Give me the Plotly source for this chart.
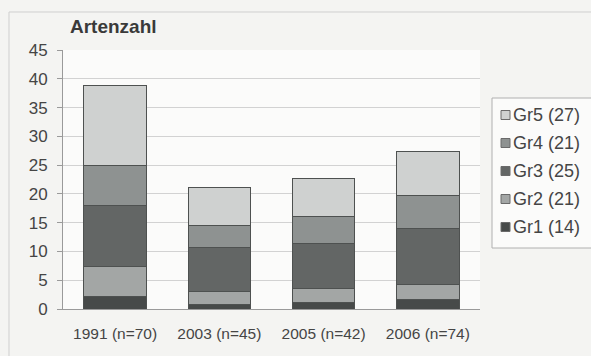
import plotly.graph_objects as go

categories = ["1991 (n=70)", "2003 (n=45)", "2005 (n=42)", "2006 (n=74)"]
series_names = ["Gr1 (14)", "Gr2 (21)", "Gr3 (25)", "Gr4 (21)", "Gr5 (27)"]
gr1 = [2.2, 0.75, 1.15, 1.6]
gr2 = [5.2, 2.35, 2.35, 2.6]
gr3 = [10.5, 7.6, 7.9, 9.8]
gr4 = [7.0, 3.8, 4.7, 5.7]
gr5 = [14.0, 6.6, 6.5, 7.7]
y_ticks = [0, 5, 10, 15, 20, 25, 30, 35, 40, 45]

values = [gr1, gr2, gr3, gr4, gr5]
colors = ["#474a49", "#a3a6a5", "#636665", "#8e9291", "#cfd1d0"]

W, H = 591, 356
ML, MR, MT, MB = 63, 111, 50, 47
PW, PH = W - ML - MR, H - MT - MB


def px_x(px):
    return (px - ML) / PW


def px_y(py):
    return (H - MB - py) / PH


fig = go.Figure()
for name, vals, col in zip(series_names, values, colors):
    fig.add_trace(go.Bar(
        x=categories, y=vals, name=name, showlegend=False,
        marker=dict(color=col, line=dict(color="#4e5150", width=1)),
    ))

shapes = [
    # outer chart frame (only top/left edges visible)
    dict(type="rect", xref="paper", yref="paper",
         x0=px_x(9), x1=px_x(640), y0=px_y(400), y1=px_y(12),
         line=dict(color="#cfcfcf", width=1), fillcolor="rgba(0,0,0,0)", layer="below"),
    # legend box
    dict(type="rect", xref="paper", yref="paper",
         x0=px_x(492), x1=px_x(620), y0=px_y(248), y1=px_y(98),
         line=dict(color="#b0b0b0", width=1), fillcolor="#fbfbfa"),
]
annotations = [dict(
    text="<b>Artenzahl</b>", xref="paper", yref="paper",
    x=px_x(68), y=px_y(27), xanchor="left", yanchor="middle", showarrow=False,
    font=dict(size=19, color="#3a3a3a"),
)]
# legend entries, top to bottom: Gr5 ... Gr1
for k, idx in enumerate(range(len(series_names) - 1, -1, -1)):
    cy = 115 + 28 * k
    shapes.append(dict(type="rect", xref="paper", yref="paper",
                       x0=px_x(501), x1=px_x(510), y0=px_y(cy + 4.5), y1=px_y(cy - 4.5),
                       line=dict(color="#6a6a6a", width=1), fillcolor=colors[idx]))
    annotations.append(dict(text=series_names[idx], xref="paper", yref="paper",
                            x=px_x(511), y=px_y(cy), xanchor="left", yanchor="middle",
                            showarrow=False, font=dict(size=18, color="#454545")))

fig.update_layout(
    barmode="stack",
    bargap=0.4,
    width=W, height=H,
    margin=dict(l=ML, r=MR, t=MT, b=MB),
    paper_bgcolor="#f4f4f2",
    plot_bgcolor="#fbfbfa",
    font=dict(family="Liberation Sans, Arial, sans-serif", color="#454545"),
    showlegend=False,
    shapes=shapes,
    annotations=annotations,
)
fig.update_yaxes(
    range=[0, 45], tickvals=y_ticks, showgrid=True, gridcolor="#d2d2d2",
    showline=True, linecolor="#9a9a9a", ticks="outside", ticklen=5, tickcolor="#9a9a9a",
    ticklabelstandoff=6,
    tickfont=dict(size=17, color="#454545"), zeroline=False,
)
fig.update_xaxes(
    showline=True, linecolor="#9a9a9a", tickfont=dict(size=15.5, color="#454545"),
    ticks="outside", ticklen=10, tickcolor="rgba(0,0,0,0)",
)

fig.write_html("out.html")
